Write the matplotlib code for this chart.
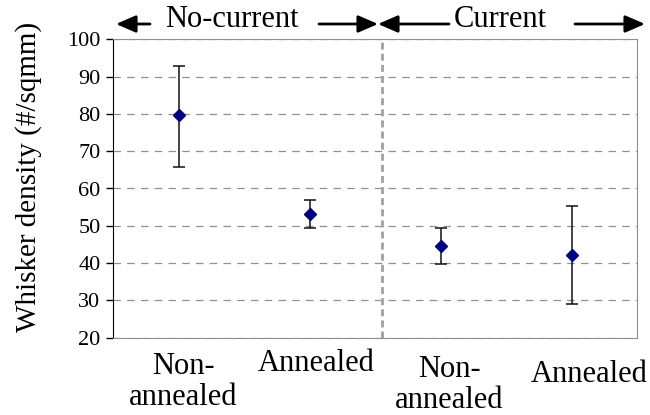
import matplotlib.pyplot as plt
from matplotlib.patches import FancyArrowPatch

categories = ['Non-\nannealed', 'Annealed', 'Non-\nannealed', 'Annealed']
density = [79.6, 53.1, 44.5, 42.2]
err_upper = [93.0, 56.9, 49.4, 55.3]
err_lower = [65.8, 49.5, 39.8, 29.0]
groups = ['No-current', 'Current']

plt.rcParams['font.family'] = ['Liberation Serif', 'DejaVu Serif']

W, H = 650, 415
fig = plt.figure(figsize=(W / 100, H / 100), dpi=100)
ax = fig.add_axes([113 / W, 1 - 337.5 / H, 524 / W, 298 / H])

xs = list(range(1, len(density) + 1))
yerr = [[d - lo for d, lo in zip(density, err_lower)],
        [hi - d for d, hi in zip(density, err_upper)]]
ax.errorbar(xs, density, yerr=yerr, fmt='D', color='#000080', ms=6.5,
            ecolor='#111111', elinewidth=1.1, capsize=4.5, capthick=1.1, zorder=3)

ax.set_xlim(0.5, 4.5)
ax.set_ylim(20, 100)
ax.set_yticks(range(20, 101, 10))
ax.tick_params(axis='y', labelsize=16, direction='out', length=5, width=1, pad=4)
ax.tick_params(axis='x', length=0, labelbottom=False)
ax.yaxis.grid(True, linestyle=(0, (6, 5)), color='#909090', linewidth=0.9)
ax.set_axisbelow(True)

for side in ['top', 'right', 'bottom']:
    ax.spines[side].set_color('#909090')
ax.spines['left'].set_color('black')

# divider between the two groups
ax.axvline(2.55, color='#a0a0a0', linestyle=(0, (2.5, 1.5)), linewidth=2)

ax.set_ylabel('Whisker density (#/sqmm)', fontsize=21, va='center')
ax.yaxis.set_label_coords((29 - 113) / 524, (337.5 - 177) / 298)


def px(x, y):
    # figure pixels from top-left -> figure fraction
    return x / W, 1 - y / H


# category labels under the axis (centre x, last baseline y in pixels)
label_pos = [(183.5, 405), (316.5, 371), (449, 408), (589.5, 382)]
for (lx, ly), lab in zip(label_pos, categories):
    fig.text(*px(lx, ly), lab, ha='center', va='baseline', fontsize=22,
             linespacing=1.1)

# group header with arrows
fig.text(*px(232, 27), groups[0], ha='center', va='baseline', fontsize=22)
fig.text(*px(500, 27), groups[1], ha='center', va='baseline', fontsize=22)
ya = 24
for x0, x1 in [(150, 116), (319, 378), (449, 378), (575, 645)]:
    fig.add_artist(FancyArrowPatch(
        px(x0, ya), px(x1, ya), transform=fig.transFigure,
        arrowstyle='-|>,head_length=0.6,head_width=0.26', mutation_scale=20,
        color='black', lw=2, shrinkA=0, shrinkB=0))

fig.savefig('out.png', dpi=100)
